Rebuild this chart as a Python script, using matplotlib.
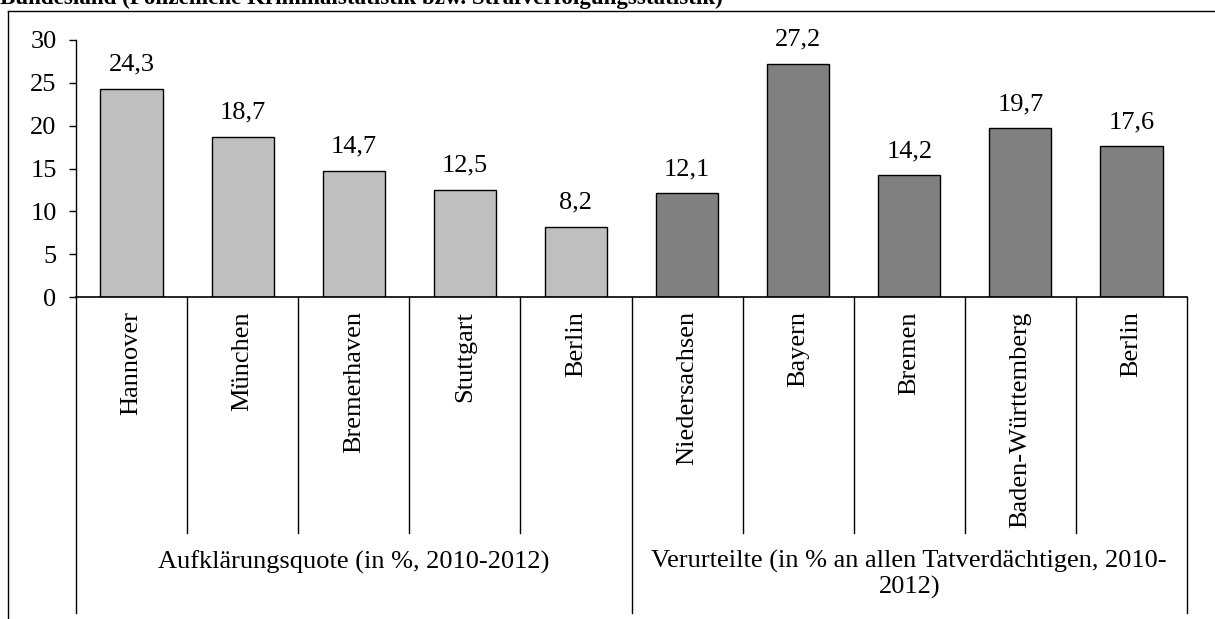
import matplotlib.pyplot as plt
from matplotlib.lines import Line2D

plt.rcParams['font.family'] = ['Liberation Serif', 'DejaVu Serif']

# data
cities = ['Hannover', 'München', 'Bremerhaven', 'Stuttgart', 'Berlin',
          'Niedersachsen', 'Bayern', 'Bremen', 'Baden-Württemberg', 'Berlin']
values = [24.3, 18.7, 14.7, 12.5, 8.2, 12.1, 27.2, 14.2, 19.7, 17.6]
groups = ['Aufklärungsquote (in %, 2010-2012)',
          'Verurteilte (in % an allen Tatverdächtigen, 2010-\n2012)']
group_size = 5
colors = ['#BFBFBF'] * 5 + ['#808080'] * 5
title = 'Bundesland (Polizeiliche Kriminalstatistik bzw. Strafverfolgungsstatistik)'

fs = 19
W, H = 1215, 619
fig = plt.figure(figsize=(W / 100, H / 100), dpi=100)
ax = fig.add_axes([76 / W, (H - 297) / H, (1187 - 76) / W, 257 / H])

x = list(range(len(cities)))
ax.bar(x, values, width=0.56, color=colors, edgecolor='black', linewidth=1.0)
for xi, v in zip(x, values):
    ax.annotate(f'{v:.1f}'.replace('.', ','), (xi, v), xytext=(0, 9.5),
                textcoords='offset points', ha='center', va='bottom', fontsize=fs)

ax.set_xlim(-0.5, len(cities) - 0.5)
ax.set_ylim(0, 30)
ax.set_yticks(range(0, 31, 5))
ax.tick_params(axis='y', labelsize=fs, length=5, width=1, pad=9)
ax.set_xticks([])
for s in ['top', 'right']:
    ax.spines[s].set_visible(False)
ax.spines['left'].set_linewidth(1)
ax.spines['bottom'].set_linewidth(1.2)

# category axis below the plot
tr = ax.get_xaxis_transform()
for i in range(len(cities) + 1):
    xb = i - 0.5
    y_end = -1.23 if i % group_size == 0 else -0.918
    ax.add_line(Line2D([xb, xb], [0, y_end], transform=tr, color='black',
                       linewidth=1, clip_on=False))
for xi, name in zip(x, cities):
    ax.text(xi, -0.055, name, transform=tr, rotation=90, ha='center', va='top',
            fontsize=fs)
for g, label in enumerate(groups):
    xc = g * group_size + (group_size - 1) / 2
    ax.text(xc, -0.985, label, transform=tr, ha='center', va='top',
            fontsize=fs, linespacing=1.17)

# outer frame and cut title
fig.add_artist(Line2D([8 / W, 1], [(H - 10.5) / H] * 2, color='black', linewidth=1))
fig.add_artist(Line2D([8 / W] * 2, [0, (H - 10.5) / H], color='black', linewidth=1))
fig.text(0, (H - 4) / H, title, fontsize=16.6, fontweight='bold', ha='left',
         va='baseline')

fig.savefig('out.png', dpi=100)
